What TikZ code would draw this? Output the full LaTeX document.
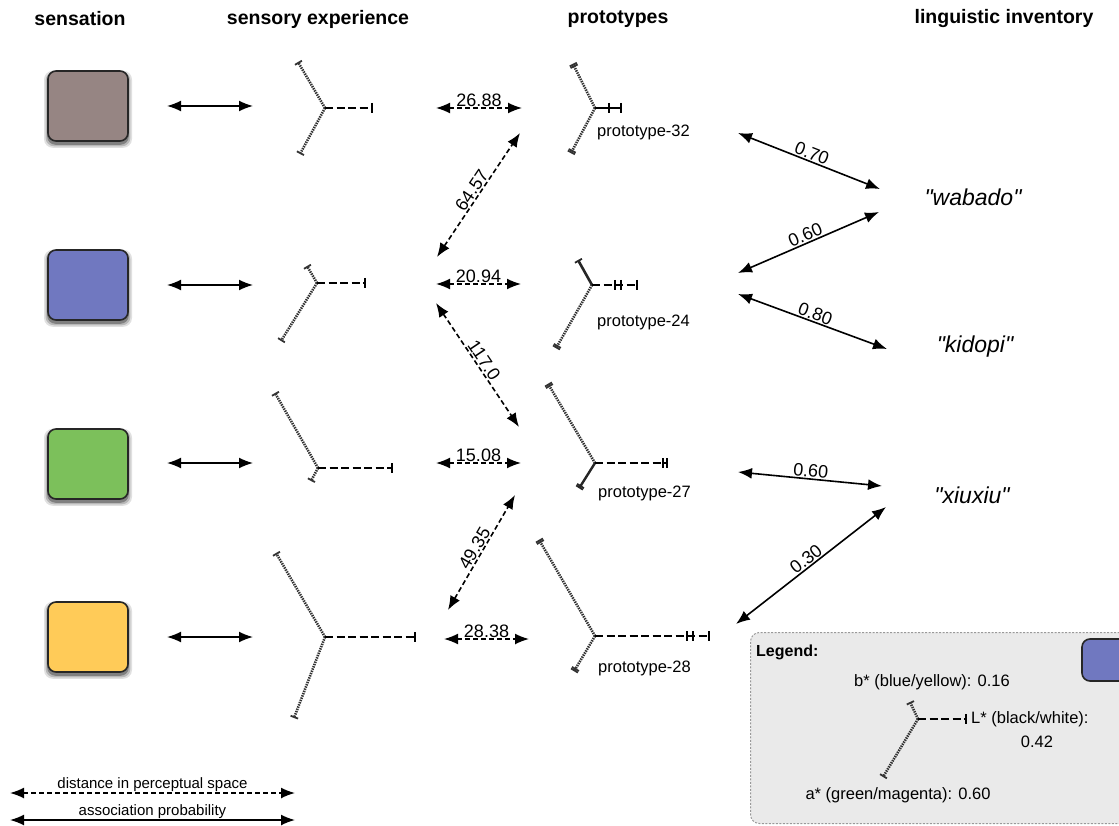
\documentclass[tikz,border=0pt]{standalone}
\usepackage{fontspec}
\setmainfont{Liberation Sans}
\newfontfamily\wordfont{Liberation Sans}[Ligatures=TeXOff]
\usetikzlibrary{arrows.meta,shadows}
\definecolor{cbrown}{HTML}{968583}
\definecolor{cblue}{HTML}{7078C0}
\definecolor{cgreen}{HTML}{7CC05B}
\definecolor{cyellow}{HTML}{FFCB58}
\definecolor{legfill}{HTML}{EAEAEA}
\begin{document}
\begin{tikzpicture}[x=1pt,y=-1pt,
  sq/.style={draw=black!85, line width=1.6pt, rounded corners=8pt, minimum width=80pt, minimum height=70pt,
    general shadow={shadow scale=1.10, shadow yshift=-3pt, opacity=0.12, fill=black},
    general shadow={shadow scale=1.06, shadow yshift=-3pt, opacity=0.18, fill=black},
    general shadow={shadow scale=1.02, shadow yshift=-3pt, opacity=0.3, fill=black}},
  head/.style={font=\fontsize{19.5}{22}\selectfont\bfseries},
  assoc/.style={{Latex[length=14pt,width=11pt]}-{Latex[length=14pt,width=11pt]}, line width=1.6pt},
  dist/.style={assoc, dash pattern=on 5pt off 3pt},
  lab/.style={font=\fontsize{18}{20}\selectfont, inner sep=1pt},
  plab/.style={font=\fontsize{16.5}{18}\selectfont, anchor=west, inner sep=0pt},
  word/.style={font=\fontsize{23}{26}\selectfont\wordfont\itshape},
  ab/.style={draw=black!80, line width=2.6pt, dash pattern=on 1.4pt off 1pt, -{Bar[width=8pt,line width=1.8pt]}},
  abb/.style={draw=black!80, line width=2.6pt, dash pattern=on 1.4pt off 1pt, -{Bar[width=8pt,line width=1.8pt] Bar[width=8pt,line width=1.8pt,sep=2pt]}},
  lw/.style={draw=black, line width=1.5pt, dash pattern=on 8pt off 3.5pt, -{Bar[width=10pt,line width=1.6pt]}},
  tk/.style={draw=black, line width=1.5pt},
  leg/.style={font=\fontsize{16.5}{19}\selectfont, inner sep=1pt}
]
\useasboundingbox (0,0) rectangle (1119,826);

% headings
\node[head] (h1) at (80,19) {sensation};
\node[head] (h2) at (318,19) {sensory experience};
\node[head] (h3) at (618,19) {prototypes};
\node[head] (h4) at (1004,19) {linguistic inventory};

% sensation squares
\node[sq, fill=cbrown] (s1) at (88,106) {};
\node[sq, fill=cblue] (s2) at (88,285) {};
\node[sq, fill=cgreen] (s3) at (88,464) {};
\node[sq, fill=cyellow] (s4) at (88,637) {};

% sensation <-> experience
\foreach \i/\y in {1/106,2/285,3/463,4/637}{
  \coordinate (sa\i) at (167,\y);
  \coordinate (sb\i) at (253,\y);
  \draw[assoc] (sa\i) -- (sb\i);
}

% sensory experience glyphs
\coordinate (e1) at (325,108);
\draw[ab] (e1) -- (298,62);
\draw[ab] (e1) -- (300,154);
\draw[lw] (e1) -- (373,108);

\coordinate (e2) at (317,283);
\draw[ab] (e2) -- (307,266);
\draw[ab] (e2) -- (281,341);
\draw[lw] (e2) -- (366,283);

\coordinate (e3) at (318,468);
\draw[ab] (e3) -- (275,393);
\draw[ab] (e3) -- (311,481);
\draw[lw] (e3) -- (393,468);

\coordinate (e4) at (325,637);
\draw[ab] (e4) -- (276,553);
\draw[ab] (e4) -- (294,718);
\draw[lw] (e4) -- (416,637);

% prototype glyphs
\coordinate (p32) at (595,108);
\draw[abb] (p32) -- (572,62);
\draw[abb] (p32) -- (570,155);
\draw[tk, -{Bar[width=10pt,line width=1.6pt]}] (p32) -- (622,108);
\draw[tk] (609,103) -- (609,113);
\node[plab] (lp32) at (597,132) {prototype-32};

\coordinate (p24) at (592,285);
\draw[draw=black!85, line width=2.6pt, -{Bar[width=8pt,line width=1.8pt]}] (p24) -- (578,260);
\draw[abb] (p24) -- (555,350);
\draw[lw, -{Bar[width=10pt,line width=1.6pt]}] (p24) -- (638,285);
\draw[tk] (615,280) -- (615,290);
\draw[tk] (621,280) -- (621,290);
\node[plab] (lp24) at (597,322) {prototype-24};

\coordinate (p27) at (595,463);
\draw[abb] (p27) -- (547,382);
\draw[draw=black!85, line width=2.4pt, -{Bar[width=8pt,line width=1.8pt] Bar[width=8pt,line width=1.8pt,sep=2pt]}] (p27) -- (578,490);
\draw[lw] (p27) -- (668,463);
\draw[tk] (663,458) -- (663,468);
\node[plab] (lp27) at (598,493) {prototype-27};

\coordinate (p28) at (595,636);
\draw[abb] (p28) -- (538,538);
\draw[abb] (p28) -- (573,673);
\draw[lw] (p28) -- (710,636);
\draw[tk] (687,631) -- (687,641);
\draw[tk] (693,631) -- (693,641);
\node[plab] (lp28) at (598,668) {prototype-28};

% distance arrows
\coordinate (d1a) at (436,108); \coordinate (d1b) at (522,108);
\draw[dist] (d1a) -- node[lab, above] {26.88} (d1b);
\coordinate (d2a) at (436,284); \coordinate (d2b) at (521,284);
\draw[dist] (d2a) -- node[lab, above] {20.94} (d2b);
\coordinate (d3a) at (436,463); \coordinate (d3b) at (521,463);
\draw[dist] (d3a) -- node[lab, above] {15.08} (d3b);
\coordinate (d4a) at (444,639); \coordinate (d4b) at (529,639);
\draw[dist] (d4a) -- node[lab, above] {28.38} (d4b);

\coordinate (x1a) at (437,257); \coordinate (x1b) at (520,133);
\draw[dist] (x1a) -- node[lab, above, sloped] {64.57} (x1b);
\coordinate (x2a) at (436,303); \coordinate (x2b) at (519,427);
\draw[dist] (x2a) -- node[lab, above, sloped] {117.0} (x2b);
\coordinate (x3a) at (448,610); \coordinate (x3b) at (515,495);
\draw[dist] (x3a) -- node[lab, above, sloped] {49.35} (x3b);

% words
\node[word] (w1) at (973,197) {"wabado"};
\node[word] (w2) at (975,347) {"kidopi"};
\node[word] (w3) at (972,495) {"xiuxiu"};

% association arrows
\coordinate (a1a) at (738,133); \coordinate (a1b) at (880,189);
\draw[assoc] (a1a) -- node[lab, above, sloped] {0.70} (a1b);
\coordinate (a2a) at (738,273); \coordinate (a2b) at (879,212);
\draw[assoc] (a2a) -- node[lab, above, sloped] {0.60} (a2b);
\coordinate (a3a) at (738,294); \coordinate (a3b) at (887,349);
\draw[assoc] (a3a) -- node[lab, above, sloped] {0.80} (a3b);
\coordinate (a4a) at (738,472); \coordinate (a4b) at (882,486);
\draw[assoc] (a4a) -- node[lab, above, sloped] {0.60} (a4b);
\coordinate (a5a) at (736,624); \coordinate (a5b) at (886,507);
\draw[assoc] (a5a) -- node[lab, above, sloped] {0.30} (a5b);

% legend box
\node[draw=black!40, fill=legfill, line width=1pt, dash pattern=on 2pt off 1.5pt, rounded corners=9pt,
      anchor=north west, minimum width=385pt, minimum height=191pt, inner sep=0pt] (lgbox) at (750,632) {};
\node[draw=black!85, line width=1.6pt, rounded corners=8pt, fill=cblue, minimum width=50pt, minimum height=42pt] (lgsq) at (1107,660) {};
\node[leg, font=\fontsize{16}{18}\selectfont\bfseries, anchor=west] (lgt) at (755,652) {Legend:};
\node[leg] (lgb) at (932,682) {b* (blue/yellow): 0.16};
\coordinate (lg) at (918,719);
\draw[ab] (lg) -- (910,702);
\draw[ab] (lg) -- (883,777);
\draw[lw] (lg) -- (967,719);
\node[leg, anchor=west] (lgl) at (970,719) {L* (black/white):};
\node[leg] (lgl2) at (1037,742) {0.42};
\node[leg] (lga) at (898,795) {a* (green/magenta): 0.60};

% bottom key
\coordinate (ka) at (10,793); \coordinate (kb) at (295,793);
\draw[dist] (ka) -- node[leg, above, inner sep=0.5pt, font=\fontsize{15}{17}\selectfont] {distance in perceptual space} (kb);
\coordinate (kc) at (10,820); \coordinate (kd) at (295,820);
\draw[assoc] (kc) -- node[leg, above, inner sep=0.5pt, font=\fontsize{15}{17}\selectfont] {association probability} (kd);
\end{tikzpicture}
\end{document}
